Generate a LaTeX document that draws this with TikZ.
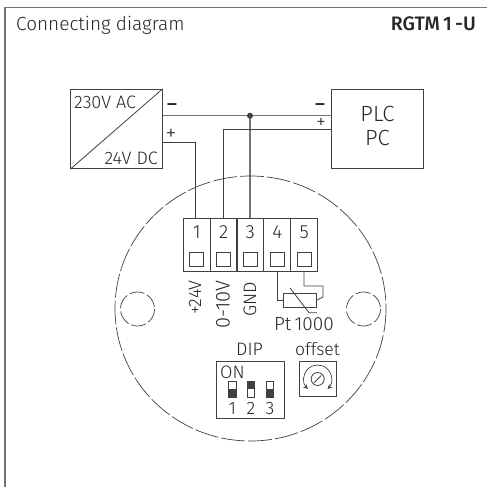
\documentclass[tikz,border=0pt]{standalone}
\usepackage{fontspec}
\setmainfont{Fira Sans}[UprightFont=* Light,BoldFont=* Medium]
\usetikzlibrary{arrows.meta}
\definecolor{ink}{gray}{0.25}
\definecolor{txt}{gray}{0.15}
\definecolor{wire}{gray}{0.45}
\tikzset{
 x=1pt,y=-1pt,
 lab/.style={inner sep=0pt,text=txt,font=\fontsize{#1}{#1}\selectfont},
 lab/.default=18,
 boxline/.style={draw=ink,line width=0.9pt},
 thin wire/.style={draw=ink,line width=0.8pt},
 gray wire/.style={draw=wire,line width=1.5pt},
 dash line/.style={draw=ink,line width=0.7pt},
}
\begin{document}
\begin{tikzpicture}
\useasboundingbox (0,0) rectangle (487,487);
\fill[white] (0,0) rectangle (487,487);
% frame
\draw[draw=wire,line width=1.2pt] (5,487) -- (5,7.5) -- (487,7.5);
\node[lab=19,anchor=base west] (title) at (16,31) {Connecting diagram};
\node[lab=19.5,anchor=base east] (type) at (476,31) {\textbf{RGTM\,1\,-U}};
% power supply
\node[boxline,minimum width=91.5pt,minimum height=79.5pt,inner sep=0pt] (psu) at (116.5,129) {};
\draw[thin wire] (psu.south west) -- (psu.north east);
\node[lab=18,anchor=base west] (ac) at (74,108) {230V AC};
\node[lab=18,anchor=base east] (dc) at (158,164) {24V DC};
% PLC
\node[boxline,minimum width=91.5pt,minimum height=79.5pt,inner sep=0pt] (plc) at (377.5,129) {};
\node[lab=22,anchor=base] (plctext) at (377.5,121) {PLC};
\node[lab=22,anchor=base] (pctext) at (377.5,145) {PC};
% terminals
\foreach \i/\cx in {1/196.8,2/223.7,3/250.3,4/277.2,5/304.3}{
  \node[boxline,minimum width=26.8pt,minimum height=53pt,inner sep=0pt] (t\i) at (\cx,244.5) {};
  \node[lab=19] (n\i) at (\cx,232) {\i};
  \node[boxline,minimum width=14pt,minimum height=14pt,inner sep=0pt] (s\i) at (\cx,259) {};
}
% wires
\coordinate (mn) at (162,115.7);
\coordinate (jn) at (250,115.7);
\coordinate (pk) at (195.7,142);
\coordinate (ql) at (223.5,129);
\draw[gray wire] (psu.east |- mn) -- (jn) -- (plc.west |- mn);
\draw[gray wire] (jn) -- (jn |- t3.north);
\fill[ink] (jn) circle[radius=3];
\draw[thin wire] (psu.east |- pk) -- (pk) -- (pk |- t1.north);
\draw[thin wire] (plc.west |- ql) -- (ql) -- (ql |- t2.north);
\node[lab=19] (m1) at (172,107.5) {\textbf{–}};
\node[lab=22] (p1) at (171,134.5) {+};
\node[lab=19] (m2) at (320,107.5) {\textbf{–}};
\node[lab=20] (p2) at (321,123) {+};
% vertical labels
\node[lab=18,rotate=90,anchor=east] (v1) at (195,280) {+24V};
\node[lab=20,rotate=90,anchor=east] (v2) at (223,280) {0-10V};
\node[lab=18,rotate=90,anchor=east] (v3) at (250,282) {GND};
% Pt1000
\node[boxline,minimum width=33.5pt,minimum height=14pt,inner sep=0pt] (rt) at (300,300) {};
\coordinate (w4a) at (277,271);
\coordinate (w4b) at (277,300);
\coordinate (w5a) at (304,271);
\coordinate (w5b) at (304,286);
\coordinate (w5c) at (323,286);
\coordinate (w5d) at (323,297);
\draw[thin wire] (w4a) -- (w4b) -- (rt.west);
\draw[thin wire] (w5a) -- (w5b) -- (w5c) -- (w5d) -- (rt.east);
\draw[thin wire] (290,288) -- (309,312.7) -- (317,312.7);
\node[lab=19,anchor=base] (pt) at (304,330) {Pt\,1000};
% DIP
\node[lab=18,anchor=base] (diplabel) at (249.5,355.7) {DIP};
\node[boxline,minimum width=68pt,minimum height=56.5pt,inner sep=0pt] (dip) at (250.3,390) {};
\node[lab=18,anchor=base west] (on) at (220,378) {ON};
\foreach \i/\cx/\fa/\fb in {1/232.3/389.3/397.3,2/251/381.3/389.3,3/270/389.3/397.3}{
  \node[draw=ink,line width=0.7pt,minimum width=7.5pt,minimum height=16pt,inner sep=0pt] (sw\i) at (\cx,389.3) {};
  \fill[ink] (\cx-3.75,\fa) rectangle (\cx+3.75,\fb);
  \node[lab=18,anchor=base] (d\i) at (\cx,414) {\i};
}
% offset
\node[lab=17.5,anchor=base] (offlabel) at (317.5,355.7) {offset};
\node[boxline,minimum width=36.5pt,minimum height=35.7pt,inner sep=0pt] (pot) at (317.7,379) {};
\draw[thin wire] (317.7,379) circle[radius=6.5];
\draw[thin wire] (314.2,382.5) -- (321.2,375.5);
\draw[line width=0.7pt,draw=ink,{Stealth[length=4.5pt,width=4.5pt]}-{Stealth[length=4.5pt,width=4.5pt]}] (317.7,379) ++(135:14) arc[start angle=135,end angle=405,radius=14];
% housing
\draw[dash line,dash pattern=on 24pt off 3pt] (250.5,308.5) ellipse[x radius=135.5,y radius=132.5];
\draw[dash line,dash pattern=on 15pt off 3pt] (137.5,309) circle[radius=17];
\draw[dash line,dash pattern=on 15pt off 3pt] (363.5,309) circle[radius=17];
\end{tikzpicture}
\end{document}
